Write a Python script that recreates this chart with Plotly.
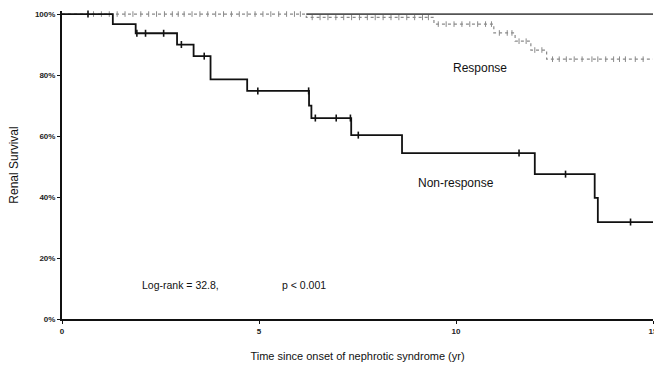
import numpy as np
import plotly.graph_objects as go

# Non-response group: step times (yr) and survival after each step
nr_time = [0, 1.29, 1.87, 2.92, 3.34, 3.77, 4.70, 6.27, 6.33, 7.34, 8.63, 12.0, 13.52, 13.6, 15.0]
nr_surv = [1.0, 0.967, 0.937, 0.900, 0.862, 0.786, 0.748, 0.70, 0.659, 0.603, 0.544, 0.475, 0.397, 0.318, 0.318]
nr_cens = [0.66, 1.9, 2.12, 2.58, 3.03, 3.61, 4.97, 6.26, 6.43, 6.96, 7.32, 7.52, 11.6, 12.78, 14.43]

# Response group
r_time = [0, 6.2, 9.44, 10.96, 11.5, 11.9, 12.3, 15.0]
r_surv = [1.0, 0.989, 0.967, 0.938, 0.911, 0.882, 0.852, 0.852]
r_cens = [0.8, 1.0, 1.2, 1.4, 1.6, 1.8, 2.0, 2.2, 2.4, 2.6, 2.8, 2.95, 3.1, 3.3, 3.5,
          3.7, 3.9, 4.1, 4.3, 4.5, 4.7, 4.9, 5.1, 5.3, 5.5, 5.7, 5.9, 6.05,
          6.35, 6.55, 6.75, 6.95, 7.15, 7.35, 7.55, 7.75, 7.95, 8.15, 8.35, 8.55, 8.75,
          8.95, 9.15, 9.3, 9.55, 9.75, 9.95, 10.15, 10.35, 10.55, 10.75, 10.9,
          11.1, 11.3, 11.42, 11.6, 11.78, 12.0, 12.18, 12.45, 12.62, 12.8, 13.0, 13.2,
          13.45, 13.6, 13.8, 14.0, 14.15, 14.3, 14.55, 14.75]

x_ticks = [0, 5, 10, 15]
y_ticks = [0, 0.2, 0.4, 0.6, 0.8, 1.0]
y_tick_labels = ["0%", "20%", "40%", "60%", "80%", "100%"]


def surv_at(times, survs, t):
    idx = np.searchsorted(np.array(times), np.array(t), side="right") - 1
    return list(np.array(survs)[idx])


fig = go.Figure()

# Response curve (dotted gray)
fig.add_trace(go.Scatter(x=r_time, y=r_surv, mode="lines", line_shape="hv",
                         line=dict(color="#8a8a8a", width=1.2, dash="dot"),
                         showlegend=False, hoverinfo="skip"))
fig.add_trace(go.Scatter(x=r_cens, y=surv_at(r_time, r_surv, r_cens), mode="markers",
                         marker=dict(symbol="line-ns", size=4,
                                     line=dict(color="#8a8a8a", width=1)),
                         showlegend=False, hoverinfo="skip", cliponaxis=False))

# Non-response curve (solid black)
fig.add_trace(go.Scatter(x=nr_time, y=nr_surv, mode="lines", line_shape="hv",
                         line=dict(color="#111111", width=1.8),
                         showlegend=False, hoverinfo="skip"))
fig.add_trace(go.Scatter(x=nr_cens, y=surv_at(nr_time, nr_surv, nr_cens), mode="markers",
                         marker=dict(symbol="line-ns", size=5,
                                     line=dict(color="#111111", width=1.6)),
                         showlegend=False, hoverinfo="skip", cliponaxis=False))

# top frame line segment
fig.add_shape(type="line", xref="x", yref="y", x0=6.2, x1=15, y0=1.0, y1=1.0,
              line=dict(color="#555555", width=1.8))

font_fam = "Liberation Sans, Arial, sans-serif"
fig.add_annotation(x=10.6, y=0.823, text="Response", showarrow=False,
                   font=dict(family=font_fam, size=12, color="#111111"))
fig.add_annotation(x=10.0, y=0.445, text="Non-response", showarrow=False,
                   font=dict(family=font_fam, size=12, color="#111111"))
fig.add_annotation(x=1.97, y=0.11, text="Log-rank = 32.8,", showarrow=False, xanchor="left",
                   font=dict(family=font_fam, size=10.5, color="#111111"))
fig.add_annotation(x=5.53, y=0.11, text="p < 0.001", showarrow=False, xanchor="left",
                   font=dict(family=font_fam, size=10.5, color="#111111"))

fig.update_layout(
    width=654, height=374,
    margin=dict(l=62, r=1, t=11, b=55),
    paper_bgcolor="white", plot_bgcolor="white",
    font=dict(family=font_fam, color="#111111"),
    xaxis=dict(range=[0, 15], tickvals=x_ticks,
               ticktext=["<b>%s</b>" % v for v in x_ticks],
               automargin=False, ticklabeloverflow="allow",
               showgrid=False, zeroline=False, showline=True, linecolor="#111111",
               linewidth=2, ticks="outside", ticklen=3, tickwidth=1, tickcolor="#111111",
               tickfont=dict(family=font_fam, size=8, color="#222222"),
               title=dict(text="Time since onset of nephrotic syndrome (yr)",
                          font=dict(family=font_fam, size=11, color="#111111"), standoff=18)),
    yaxis=dict(range=[0, 1.01], tickvals=y_ticks,
               ticktext=["<b>%s</b>" % s for s in y_tick_labels],
               automargin=False,
               showgrid=False, zeroline=False, showline=True, linecolor="#111111",
               linewidth=2, ticks="outside", ticklen=3, tickwidth=1, tickcolor="#111111",
               tickfont=dict(family=font_fam, size=8, color="#222222"),
               title=dict(text="Renal Survival",
                          font=dict(family=font_fam, size=12, color="#111111"), standoff=14)),
)

fig.write_html("out.html", config={"displayModeBar": False},
               post_script="document.body.style.margin='0';")
